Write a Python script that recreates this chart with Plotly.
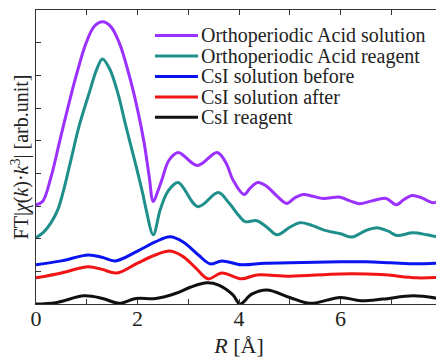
import plotly.graph_objects as go

# Orthoperiodic Acid solution (purple)
oas_r = [0, 0.13, 0.3, 0.46, 0.62, 0.79, 0.99, 1.15, 1.31, 1.47, 1.64, 1.84, 2.0, 2.13, 2.23, 2.31,
         2.4, 2.48, 2.62, 2.8, 3.18, 3.57, 3.75, 3.88, 4.1, 4.22, 4.37, 4.55, 4.75, 4.94,
         5.1, 5.27, 5.45, 5.66, 5.99, 6.2, 6.38, 6.6, 6.9, 7.1, 7.25, 7.41, 7.6, 7.82, 8.0]
oas_v = [3.04, 3.14, 3.91, 4.94, 5.96, 6.98, 8.0, 8.5, 8.64, 8.5, 8.0, 6.98, 5.96, 4.94, 3.91, 3.14,
         3.45, 3.8, 4.4, 4.64, 4.24, 4.64, 4.3, 3.8, 3.35, 3.55, 3.72, 3.6, 3.3, 3.08,
         3.25, 3.35, 3.3, 3.23, 3.27, 3.15, 3.07, 3.15, 3.23, 3.04, 3.2, 3.32, 3.25, 3.1, 3.2]

# Orthoperiodic Acid reagent (teal)
oar_r = [0, 0.15, 0.3, 0.43, 0.53, 0.69, 0.85, 1.05, 1.2, 1.31, 1.45, 1.61, 1.77, 1.94, 2.1, 2.17, 2.31,
         2.45, 2.6, 2.8, 3.19, 3.59, 3.8, 4.0, 4.12, 4.35, 4.55, 4.75, 5.0, 5.2,
         5.45, 5.66, 6.0, 6.23, 6.5, 6.74, 6.95, 7.11, 7.43, 7.7, 7.9, 8.0]
oar_v = [2.03, 2.2, 2.5, 2.89, 3.4, 4.42, 5.45, 6.47, 7.2, 7.5, 7.2, 6.47, 5.45, 4.42, 3.4, 2.89, 2.12,
         2.9, 3.45, 3.72, 2.98, 3.41, 3.1, 2.7, 2.52, 2.55, 2.35, 2.12, 2.35, 2.49,
         2.4, 2.27, 2.15, 2.05, 2.25, 2.33, 2.22, 2.1, 2.18, 2.12, 2.06, 2.06]

# CsI solution before (blue)
csb_r = [0, 0.5, 1.03, 1.3, 1.56, 2.0, 2.35, 2.64, 2.9, 3.2, 3.43, 3.66, 4.05, 4.5, 5.0, 6.0, 6.5, 7.0, 7.5, 8.0]
csb_v = [1.2, 1.32, 1.5, 1.43, 1.32, 1.62, 1.9, 2.06, 1.9, 1.5, 1.23, 1.32, 1.2, 1.25, 1.26, 1.29, 1.29, 1.26, 1.23, 1.26]

# CsI solution after (red)
csa_r = [0, 0.5, 1.03, 1.3, 1.59, 2.0, 2.35, 2.64, 2.9, 3.15, 3.39, 3.66, 4.05, 4.35, 5.0, 6.0, 6.8, 7.5, 8.0]
csa_v = [0.8, 0.95, 1.14, 1.06, 0.95, 1.25, 1.5, 1.62, 1.45, 1.1, 0.77, 0.95, 0.77, 0.89, 0.85, 0.92, 0.9, 0.8, 0.82]

# CsI reagent (black)
csr_r = [0, 0.39, 0.95, 1.31, 1.64, 1.97, 2.36, 2.76, 3.05, 3.37, 3.6, 3.88, 4.02, 4.25, 4.55, 5.0, 5.4,
         6.0, 6.4, 6.84, 7.43, 8.0]
csr_v = [0.0, 0.04, 0.25, 0.17, 0.02, 0.17, 0.17, 0.33, 0.52, 0.65, 0.58, 0.28, 0.0, 0.3, 0.43, 0.2, 0.02,
         0.2, 0.1, 0.15, 0.25, 0.15]

series_names = ["Orthoperiodic Acid solution", "Orthoperiodic Acid reagent",
                "CsI solution before", "CsI solution after", "CsI reagent"]
series_r = [oas_r, oar_r, csb_r, csa_r, csr_r]
series_v = [oas_v, oar_v, csb_v, csa_v, csr_v]
series_colors = ["#9b30ff", "#1f8f8c", "#0a14f0", "#f01414", "#101010"]

x_ticks = [0, 2, 4, 6, 8]
x_ticktext = ["0", "2", "4", "6", "8"]

font = "Liberation Serif"
txt_color = "#222"

fig = go.Figure()
for name, r, v, c in zip(series_names, series_r, series_v, series_colors):
    fig.add_trace(go.Scatter(x=r, y=v, mode="lines", name=name, showlegend=False,
                             line=dict(color=c, width=3, shape="spline", smoothing=1.0)))

# Legend drawn as line samples + text (tight row spacing as in the original)
leg_line_x0, leg_line_x1, leg_text_x = 0.293, 0.399, 0.402
leg_top, leg_step = 0.913, 0.0695
for i, (name, c) in enumerate(zip(series_names, series_colors)):
    yy = leg_top - i * leg_step
    fig.add_shape(type="line", xref="paper", yref="paper",
                  x0=leg_line_x0, x1=leg_line_x1, y0=yy, y1=yy,
                  line=dict(color=c, width=3))
    fig.add_annotation(xref="paper", yref="paper", x=leg_text_x, y=yy,
                       xanchor="left", yanchor="middle", showarrow=False,
                       text=name, font=dict(size=20, family=font, color=txt_color))

# page body has an 8px margin; the figure is sized so the page does not overflow
fig.update_layout(
    width=436, height=350,
    margin=dict(l=28, r=2, t=2, b=54),
    paper_bgcolor="white", plot_bgcolor="white",
    font=dict(family=font, color=txt_color, size=18),
    showlegend=False,
)
fig.update_xaxes(range=[0, 8], tickmode="array", tickvals=x_ticks, ticktext=x_ticktext,
                 ticks="inside", ticklen=5, tickcolor="#333", showline=True, linecolor="#333",
                 minor=dict(dtick=1, ticks="inside", ticklen=5, tickcolor="#333", showgrid=False),
                 linewidth=1, mirror="ticks", showgrid=False, zeroline=False, automargin=False,
                 ticklabelstandoff=-5, ticklabeloverflow="allow",
                 tickfont=dict(size=22, family=font, color=txt_color),
                 title=dict(text="<i>R</i> [Å]", font=dict(size=22, family=font, color=txt_color), standoff=8))
fig.update_yaxes(range=[0, 9], dtick=1, showticklabels=False,
                 ticks="inside", ticklen=5, tickcolor="#333", showline=True, linecolor="#333",
                 linewidth=1, mirror="ticks", showgrid=False, zeroline=False, automargin=False,
                 title=dict(text="FT|<i>χ</i>(<i>k</i>)·<i>k</i><sup>3</sup>| [arb.unit]",
                            font=dict(size=20, family=font, color=txt_color), standoff=8))

fig.write_html("out.html")
